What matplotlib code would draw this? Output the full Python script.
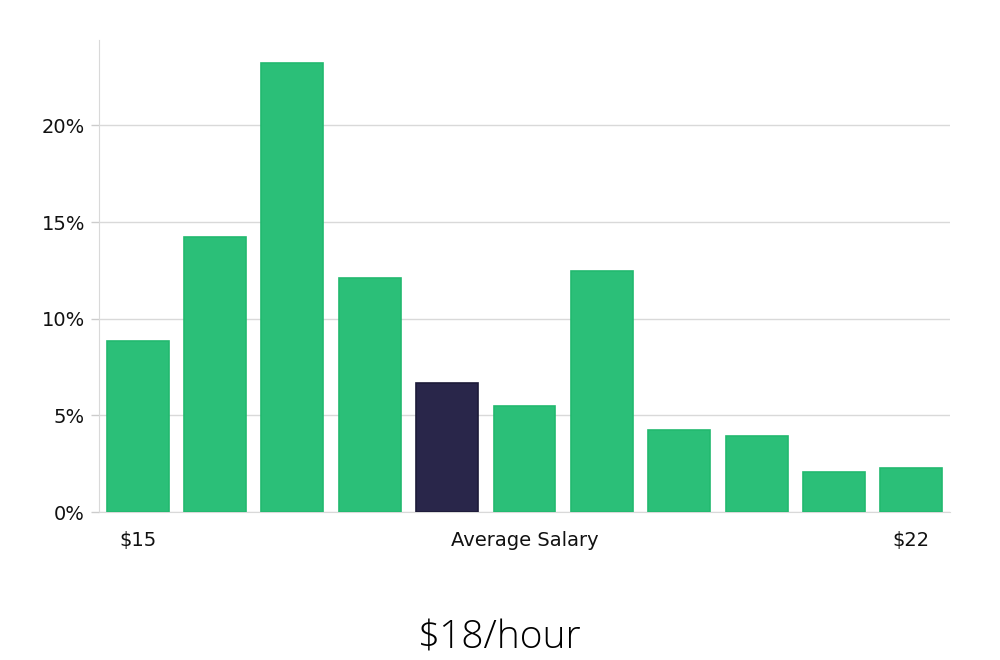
import matplotlib
matplotlib.use('Agg')
from matplotlib import pyplot as plt, ticker

shares = [8.84, 14.2, 23.2, 12.1, 6.67, 5.5, 12.45, 4.24, 3.93, 2.07, 2.27]
highlight = 4
tick_positions = [0, 5, 10]
tick_labels = ['$15', 'Average Salary', '$22']
title = '$18/hour'


def main():
    plt.rcParams['font.family'] = ['DejaVu Sans']
    fig = plt.figure(figsize=(10, 6.6), dpi=100)
    ax = fig.add_axes([0.099, 0.2242, 0.851, 0.7148])

    colors = ['#2bbf78'] * len(shares)
    edges = ['#22b96f'] * len(shares)
    colors[highlight] = '#29264a'
    edges[highlight] = '#1c1a38'

    ax.bar(range(len(shares)), shares, width=0.8, color=colors,
           edgecolor=edges, linewidth=1.2, zorder=3)

    ax.set_xlim(-0.5, 10.5)
    ax.set_ylim(0, 24.4)
    ax.set_yticks([0, 5, 10, 15, 20])
    ax.yaxis.set_major_formatter(ticker.PercentFormatter(decimals=0))
    ax.set_xticks(tick_positions)
    ax.set_xticklabels(tick_labels)

    ax.tick_params(axis='x', length=0, pad=14, labelsize=14, colors='#111111')
    ax.tick_params(axis='y', length=6, width=1, color='#cccccc', labelsize=14,
                   labelcolor='#111111', pad=4)

    ax.grid(True, axis='y', color='#d9d9d9', linewidth=1, zorder=0)
    for side in ['top', 'right']:
        ax.spines[side].set_visible(False)
    ax.spines['left'].set_color('#d9d9d9')
    ax.spines['bottom'].set_color('#d9d9d9')

    fig.text(0.5, 0.04, title, ha='center', va='center_baseline', fontsize=28,
             family=['Open Sans', 'DejaVu Sans'], fontweight='light', color='#000000')

    fig.savefig('out.png', dpi=100, facecolor='white')


if __name__ == '__main__':
    main()
